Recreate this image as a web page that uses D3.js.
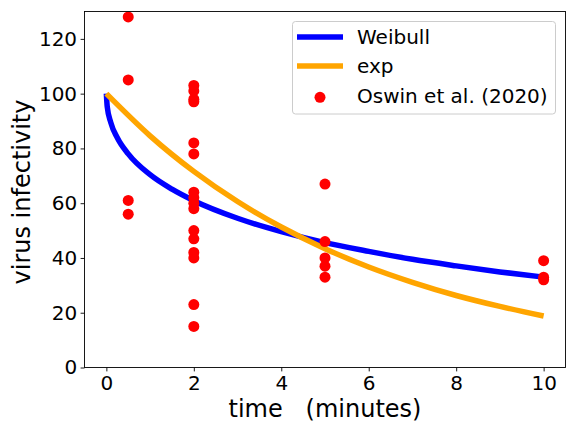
<!DOCTYPE html>
<html>
<head>
<meta charset="utf-8">
<script src="https://cdn.jsdelivr.net/npm/d3@7"></script>
<style>
  body { margin: 0; background: #fff; }
  text { font-family: "DejaVu Sans", sans-serif; }
</style>
</head>
<body>
<div id="grafiek"></div>
<script>
// meetpunten (Oswin et al. 2020)
var tijdPunten = [0.5, 0.5, 0.5, 0.5,
                  2, 2, 2, 2, 2, 2, 2, 2, 2, 2, 2, 2, 2, 2, 2, 2,
                  5, 5, 5, 5, 5,
                  10, 10, 10];
var infectPunten = [128, 105, 61, 56,
                    103, 101, 98, 97, 82, 78, 64, 62, 60, 58, 50, 47, 42, 40, 23, 15,
                    67, 46, 40, 37, 33,
                    39, 33, 32];

// modelcurves
var tijdWeibull = [0, 0.02, 0.1, 0.25, 0.5, 1, 1.5, 2, 3, 4, 5, 6, 7, 8, 9, 10];
var waardeWeibull = [100, 95.2, 89.5, 83.9, 78.0, 70.4, 65.1, 60.9, 54.5, 49.6, 45.6, 42.4, 39.5, 37.1, 34.9, 33.0];
var tijdExp = [0, 1, 2, 3, 4, 5, 6, 7, 8, 9, 10];
var waardeExp = [100, 84.6, 71.6, 60.6, 51.3, 43.4, 36.7, 31.1, 26.3, 22.3, 18.8];

var xTicks = [0, 2, 4, 6, 8, 10];
var yTicks = [0, 20, 40, 60, 80, 100, 120];

var breedte = 576, hoogte = 432;
var marge = {links: 84.5, rechts: 10.5, boven: 11.5, beneden: 64.5};

var svg = d3.select("#grafiek").append("svg")
            .attr("width", breedte)
            .attr("height", hoogte);

var x = d3.scaleLinear().domain([-0.5, 10.5]).range([marge.links, breedte - marge.rechts]);
var y = d3.scaleLinear().domain([0, 130]).range([hoogte - marge.beneden, marge.boven]);

// lijnen
var lijn = d3.line()
             .x(function(d) { return x(d[0]); })
             .y(function(d) { return y(d[1]); })
             .curve(d3.curveMonotoneX);

svg.append("path")
   .attr("d", lijn(d3.zip(tijdWeibull, waardeWeibull)))
   .attr("fill", "none")
   .attr("stroke", "#0000ff")
   .attr("stroke-width", 5.5);

svg.append("path")
   .attr("d", lijn(d3.zip(tijdExp, waardeExp)))
   .attr("fill", "none")
   .attr("stroke", "#ffa500")
   .attr("stroke-width", 5.5);

// punten
svg.selectAll(".punt")
   .data(d3.zip(tijdPunten, infectPunten))
   .enter().append("circle")
   .attr("class", "punt")
   .attr("cx", function(d) { return x(d[0]); })
   .attr("cy", function(d) { return y(d[1]); })
   .attr("r", 5.5)
   .attr("fill", "#ff0000");

// assen
var xAs = svg.append("g")
             .attr("transform", "translate(0," + (hoogte - marge.beneden) + ")")
             .call(d3.axisBottom(x).tickValues(xTicks).tickSize(3.9).tickPadding(4.5).tickFormat(d3.format("d")));
var yAs = svg.append("g")
             .attr("transform", "translate(" + marge.links + ",0)")
             .call(d3.axisLeft(y).tickValues(yTicks).tickSize(3.9).tickPadding(3.5).tickFormat(d3.format("d")));

[xAs, yAs].forEach(function(as) {
  as.select(".domain").remove();
  as.selectAll("text").style("font-size", "20px").attr("fill", "#000");
  as.selectAll("line").attr("stroke", "#000").attr("stroke-width", 0.9);
});

// kader
svg.append("rect")
   .attr("x", marge.links)
   .attr("y", marge.boven)
   .attr("width", breedte - marge.links - marge.rechts)
   .attr("height", hoogte - marge.boven - marge.beneden)
   .attr("fill", "none")
   .attr("stroke", "#000")
   .attr("stroke-width", 0.9);

// aslabels
svg.append("text")
   .attr("x", (marge.links + breedte - marge.rechts) / 2)
   .attr("y", 417)
   .attr("text-anchor", "middle")
   .style("font-size", "24px")
   .style("white-space", "pre")
   .text("time   (minutes)");

svg.append("text")
   .attr("transform", "translate(30,192) rotate(-90)")
   .attr("text-anchor", "middle")
   .style("font-size", "24px")
   .text("virus infectivity");

// legenda
var legenda = svg.append("g");
legenda.append("rect")
       .attr("x", 292.5).attr("y", 21.5)
       .attr("width", 263).attr("height", 92.5)
       .attr("rx", 3)
       .attr("fill", "#fff").attr("fill-opacity", 0.8)
       .attr("stroke", "#ccc").attr("stroke-width", 1);

var legendaItems = [
  {naam: "Weibull", kleur: "#0000ff", soort: "lijn", y: 37},
  {naam: "exp", kleur: "#ffa500", soort: "lijn", y: 66},
  {naam: "Oswin et al. (2020)", kleur: "#ff0000", soort: "punt", y: 95.5}
];

legendaItems.forEach(function(item) {
  if (item.soort == "lijn") {
    legenda.append("line")
           .attr("x1", 297).attr("x2", 343)
           .attr("y1", item.y).attr("y2", item.y)
           .attr("stroke", item.kleur).attr("stroke-width", 5.5);
  } else {
    legenda.append("circle")
           .attr("cx", 320).attr("cy", item.y + 1.8)
           .attr("r", 5.5).attr("fill", item.kleur);
  }
  legenda.append("text")
         .attr("x", 357)
         .attr("y", item.y + 7.3)
         .style("font-size", "20px")
         .text(item.naam);
});
</script>
</body>
</html>
